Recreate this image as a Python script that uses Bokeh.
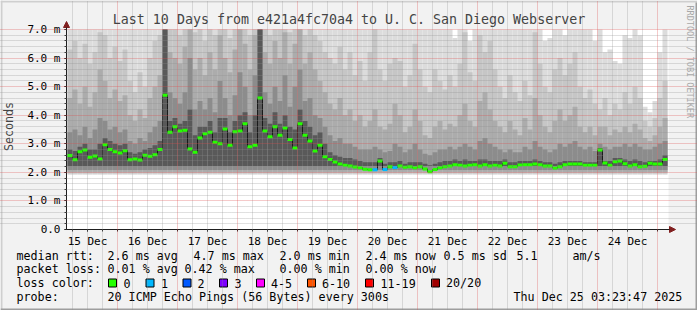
import math
from bokeh.plotting import figure
from bokeh.models import Range1d, FixedTicker, Label, Arrow, NormalHead
from bokeh.core.properties import value
from bokeh.embed import file_html
from bokeh.resources import INLINE

# ---------------- data ----------------
day_labels = ["15 Dec", "16 Dec", "17 Dec", "18 Dec", "19 Dec",
              "20 Dec", "21 Dec", "22 Dec", "23 Dec", "24 Dec"]
bin_start_h = 4      # hours after 15 Dec 00:00
bin_hours = 2

median_ms = [
    2.59, 2.44, 2.72, 2.78, 2.53, 2.57, 2.47, 2.97, 2.80, 2.72,
    2.68, 2.76, 2.44, 2.47, 2.43, 2.60, 2.56, 2.62, 2.80, 4.70,
    3.40, 3.60, 3.45, 3.47, 2.82, 2.70, 3.20, 3.35, 3.40, 3.05,
    3.00, 3.52, 2.95, 3.42, 3.45, 3.70, 2.90, 2.95, 4.60, 3.45,
    3.25, 3.60, 3.30, 3.55, 3.15, 2.85, 3.70, 3.30, 3.10, 2.75,
    2.95, 2.55, 2.45, 2.36, 2.29, 2.25, 2.22, 2.19, 2.16, 2.11,
    2.09, 2.09, 2.40, 2.10, 2.20, 2.17, 2.22, 2.18, 2.20, 2.16,
    2.20, 2.12, 2.02, 2.10, 2.16, 2.20, 2.22, 2.27, 2.25, 2.22,
    2.25, 2.27, 2.22, 2.27, 2.22, 2.25, 2.22, 2.32, 2.20, 2.20,
    2.26, 2.27, 2.27, 2.29, 2.27, 2.22, 2.22, 2.15, 2.20, 2.27,
    2.29, 2.29, 2.29, 2.25, 2.25, 2.25, 2.78, 2.33, 2.25, 2.37,
    2.40, 2.30, 2.22, 2.27, 2.20, 2.21, 2.32, 2.29, 2.29, 2.45,
]
# bins where pings were lost (bin index -> lost pings of 20)
loss_events = {61: 1, 63: 1, 65: 1}

smoke_max = [
    7.0, 7.0, 7.0, 7.0, 7.0, 7.0, 7.0, 7.0, 7.0, 7.0,
    7.0, 7.0, 7.0, 7.0, 7.0, 7.0, 7.0, 7.0, 7.0, 7.0,
    7.0, 7.0, 7.0, 7.0, 7.0, 7.0, 7.0, 7.0, 7.0, 7.0,
    7.0, 7.0, 7.0, 7.0, 7.0, 7.0, 7.0, 7.0, 7.0, 7.0,
    7.0, 7.0, 7.0, 7.0, 7.0, 7.0, 7.0, 7.0, 7.0, 7.0,
    7.0, 7.0, 7.0, 7.0, 7.0, 7.0, 7.0, 7.0, 7.0, 7.0,
    7.0, 7.0, 7.0, 7.0, 7.0, 7.0, 7.0, 7.0, 7.0, 7.0,
    7.0, 7.0, 7.0, 7.0, 7.0, 7.0, 7.0, 6.7, 7.0, 7.0,
    6.6, 7.0, 7.0, 7.0, 7.0, 7.0, 7.0, 7.0, 7.0, 7.0,
    7.0, 7.0, 7.0, 7.0, 7.0, 6.6, 6.7, 7.0, 7.0, 6.8,
    7.0, 7.0, 7.0, 7.0, 7.0, 6.6, 7.0, 6.2, 6.3, 5.9,
    5.8, 6.8, 6.7, 7.0, 6.8, 4.3, 4.1, 4.5, 6.2, 7.0,
]
smoke_p90 = [
    6.3, 6.6, 6.0, 6.5, 5.8, 6.2, 6.9, 6.8, 6.0, 6.4,
    5.9, 6.3, 5.2, 4.8, 5.5, 5.0, 6.0, 6.6, 6.8, 7.0,
    7.0, 7.0, 6.8, 7.0, 7.0, 6.9, 7.0, 6.6, 7.0, 6.8,
    7.0, 7.0, 6.7, 7.0, 7.0, 7.0, 6.8, 7.0, 7.0, 7.0,
    6.8, 7.0, 7.0, 7.0, 6.9, 7.0, 7.0, 6.8, 7.0, 6.8,
    6.6, 6.2, 6.0, 5.8, 6.4, 5.6, 6.2, 5.4, 5.9, 5.2,
    6.2, 7.0, 5.6, 5.2, 5.8, 6.0, 5.9, 5.0, 5.4, 6.5,
    5.6, 5.0, 4.8, 5.6, 5.2, 4.9, 5.4, 5.0, 5.8, 6.9,
    5.5, 5.2, 6.8, 6.2, 6.6, 5.6, 5.0, 4.6, 5.4, 4.8,
    4.5, 5.2, 4.7, 6.9, 5.8, 5.0, 4.8, 5.6, 6.0, 5.4,
    5.8, 6.2, 5.0, 4.6, 4.9, 4.4, 4.2, 4.6, 4.0, 4.4,
    4.2, 4.8, 4.4, 5.0, 4.6, 3.8, 3.6, 3.9, 4.6, 5.2,
]
smoke_p75 = [
    4.6, 4.9, 4.4, 5.0, 4.3, 4.8, 5.6, 5.2, 4.6, 4.9,
    4.5, 4.7, 4.0, 3.8, 4.2, 3.9, 4.6, 5.0, 5.4, 7.0,
    6.2, 6.0, 5.8, 6.4, 7.0, 5.6, 6.0, 5.4, 6.2, 5.6,
    6.8, 6.0, 5.5, 6.3, 7.0, 6.5, 5.6, 6.8, 7.0, 6.2,
    5.8, 6.6, 6.0, 6.9, 5.8, 6.5, 7.0, 5.8, 6.2, 5.6,
    5.2, 4.8, 4.4, 4.2, 4.6, 4.0, 4.2, 3.8, 4.0, 3.6,
    3.8, 4.2, 3.6, 3.5, 3.7, 4.4, 4.0, 3.4, 3.6, 4.2,
    3.8, 3.3, 3.2, 3.6, 3.8, 3.5, 3.7, 3.6, 4.0, 4.4,
    3.8, 3.6, 4.5, 4.8, 4.2, 3.8, 3.6, 3.4, 3.8, 3.5,
    3.3, 3.9, 3.5, 4.6, 4.0, 3.6, 3.4, 3.8, 4.2, 3.8,
    4.0, 4.3, 3.6, 3.4, 3.6, 3.3, 3.6, 3.6, 3.3, 3.5,
    3.4, 3.6, 3.4, 3.7, 3.5, 3.2, 3.1, 3.3, 3.6, 3.9,
]
smoke_p65 = [
    3.4, 3.5, 3.3, 3.6, 3.2, 3.5, 3.9, 3.8, 3.5, 3.6,
    3.4, 3.5, 3.1, 3.0, 3.2, 3.1, 3.4, 3.6, 3.8, 7.0,
    4.8, 4.6, 4.4, 4.8, 6.0, 4.2, 4.5, 4.2, 4.6, 4.1,
    5.2, 4.6, 4.0, 4.7, 5.5, 5.0, 4.0, 5.4, 7.0, 4.8,
    4.4, 5.0, 4.5, 5.4, 4.3, 5.0, 5.6, 4.5, 4.6, 4.0,
    3.9, 3.6, 3.3, 3.1, 3.2, 3.0, 3.0, 2.9, 2.8, 2.8,
    2.8, 2.9, 2.8, 2.7, 2.75, 3.0, 2.9, 2.7, 2.8, 3.0,
    2.8, 2.65, 2.6, 2.7, 2.8, 2.8, 2.9, 2.8, 2.9, 3.0,
    2.9, 2.8, 3.1, 3.2, 3.0, 2.9, 2.8, 2.7, 2.8, 2.7,
    2.7, 2.9, 2.8, 3.1, 2.9, 2.8, 2.7, 2.8, 3.0, 2.9,
    3.0, 3.1, 2.9, 2.8, 2.9, 2.75, 3.0, 2.9, 2.8, 2.9,
    2.9, 3.0, 2.9, 3.0, 2.9, 2.8, 2.8, 2.9, 3.0, 3.1,
]
smoke_p55 = [
    2.8, 2.75, 2.9, 3.0, 2.8, 2.8, 3.0, 3.2, 3.1, 3.0,
    2.95, 3.0, 2.7, 2.65, 2.7, 2.8, 2.85, 2.95, 3.1, 7.0,
    3.8, 3.9, 3.7, 3.8, 4.2, 3.3, 3.6, 3.6, 3.8, 3.4,
    3.9, 3.9, 3.4, 3.8, 4.0, 4.1, 3.4, 4.0, 7.0, 3.9,
    3.7, 4.1, 3.7, 4.0, 3.6, 3.5, 4.2, 3.8, 3.6, 3.3,
    3.4, 3.0, 2.7, 2.6, 2.55, 2.5, 2.5, 2.45, 2.4, 2.35,
    2.35, 2.35, 2.5, 2.3, 2.35, 2.35, 2.4, 2.3, 2.35, 2.35,
    2.35, 2.3, 2.25, 2.3, 2.35, 2.4, 2.4, 2.45, 2.4, 2.45,
    2.4, 2.4, 2.45, 2.45, 2.4, 2.4, 2.4, 2.45, 2.35, 2.35,
    2.4, 2.4, 2.4, 2.45, 2.4, 2.35, 2.35, 2.3, 2.35, 2.4,
    2.4, 2.4, 2.4, 2.35, 2.35, 2.35, 2.85, 2.4, 2.4, 2.5,
    2.5, 2.45, 2.4, 2.45, 2.4, 2.35, 2.4, 2.4, 2.45, 2.6,
]
smoke_bands = [  # (upper level, lower edge, grey)
    (smoke_max, 1.92, "#dcdcdc"),
    (smoke_p90, 1.96, "#c6c6c6"),
    (smoke_p75, 2.00, "#acacac"),
    (smoke_p65, 2.08, "#8c8c8c"),
    (smoke_p55, 2.22, "#595959"),
]

stat_rtt = ["2.6 ms avg", "4.7 ms max", "2.0 ms min", "2.4 ms now", "0.5 ms sd", "5.1", "am/s"]
stat_loss = ["0.01 % avg", "0.42 % max", "0.00 % min", "0.00 % now"]
loss_names = ["0", "1", "2", "3", "4-5", "6-10", "11-19", "20/20"]
loss_cols = ["#26ff00", "#00b8ff", "#0059ff", "#7e00ff", "#ff00ff", "#ff5500", "#ff0000", "#a10000"]
loss_lo = [0, 1, 2, 3, 4, 6, 11, 20]
probe_text = "20 ICMP Echo Pings (56 Bytes) every 300s"
stamp_text = "Thu Dec 25 03:23:47 2025"
title_text = "Last 10 Days from e421a4fc70a4 to U. C. San Diego Webserver"

# ---------------- layout (pixel geometry of the rrd image) ----------------
W, H = 697, 310
AX_X, AX_Y = 66, 229              # where the axes cross (pixels)
CANVAS_R, CANVAS_T = 668, 29      # white canvas right / top edge
X0 = 3.6                          # hours at the y axis
PXH = 2.5                         # px per hour
PXV = 200 / 7                     # px per ms
BG = "#f2f2f2"
MONO = "DejaVu Sans Mono"


def hx(px):
    return X0 + (px - AX_X) / PXH


def vy(py):
    return (AX_Y - py) / PXV


p = figure(width=W, height=H, x_range=Range1d(hx(0), hx(W)), y_range=Range1d(vy(H), vy(0)),
           output_backend="svg", toolbar_location=None,
           min_border=0, min_border_left=0, min_border_right=0,
           min_border_top=0, min_border_bottom=0)
p.background_fill_color = BG
p.border_fill_color = BG
p.outline_line_color = None

# bevel + white canvas
p.quad(left=[hx(0)], right=[hx(W)], bottom=[vy(2)], top=[vy(0)], fill_color="#cfcfcf", line_color=None)
p.quad(left=[hx(0)], right=[hx(2)], bottom=[vy(H)], top=[vy(0)], fill_color="#cfcfcf", line_color=None)
p.quad(left=[hx(0)], right=[hx(W)], bottom=[vy(H)], top=[vy(H - 2)], fill_color="#9e9e9e", line_color=None)
p.quad(left=[hx(W - 2)], right=[hx(W)], bottom=[vy(H)], top=[vy(2)], fill_color="#9e9e9e", line_color=None)
p.quad(left=[X0], right=[hx(CANVAS_R)], bottom=[0], top=[7], fill_color="#ffffff", line_color=None)

n = len(median_ms)
lefts = [bin_start_h + i * bin_hours for i in range(n)]
rights = [l + bin_hours for l in lefts]
centers = [l + bin_hours / 2 for l in lefts]

for level, lo, col in smoke_bands:
    p.quad(left=lefts, right=rights, bottom=lo, top=level, fill_color=col, line_color=None)


def loss_color(k):
    c = loss_cols[0]
    for lo, cc in zip(loss_lo, loss_cols):
        if k >= lo:
            c = cc
    return c


med_cols = [loss_color(loss_events.get(i, 0)) for i in range(n)]
p.step(x=centers, y=median_ms, mode="center", line_color="#1a1a1a", line_width=1)
p.rect(x=centers, y=median_ms, width=bin_hours, height=3, height_units="screen",
       fill_color=med_cols, line_color=None)

# grids
midnights = [24 * d for d in range(1, 11)]
six_h = [6 * k for k in range(1, 41) if k % 4 != 0]
noons = [12 + 24 * d for d in range(10)]
p.xgrid.ticker = FixedTicker(ticks=midnights, minor_ticks=six_h)
p.ygrid.ticker = FixedTicker(ticks=[1, 2, 3, 4, 5, 6, 7],
                             minor_ticks=[k / 5 for k in range(1, 35) if k % 5 != 0])
p.xgrid.bounds = (0, 7)
p.ygrid.bounds = (X0, hx(CANVAS_R))
for g in (p.xgrid, p.ygrid):
    g.level = "guide"
    g.grid_line_color = "#de4f4f"
    g.grid_line_alpha = 0.6
    g.grid_line_dash = "1 1"
    g.minor_grid_line_color = "#8f8f8f"
    g.minor_grid_line_alpha = 0.55
    g.minor_grid_line_dash = "1 1"

# axes, pinned where the rrd axes cross
p.xaxis.fixed_location = 0
p.yaxis.fixed_location = X0
p.xaxis.ticker = FixedTicker(ticks=noons, minor_ticks=[6 * k for k in range(1, 41)])
p.xaxis.major_label_overrides = {t: l for t, l in zip(noons, day_labels)}
p.xaxis.bounds = (X0, hx(670))
p.yaxis.ticker = FixedTicker(ticks=[0, 1, 2, 3, 4, 5, 6, 7],
                             minor_ticks=[k / 5 for k in range(0, 36)])
p.yaxis.major_label_overrides = {0: "0.0", 1: "1.0 m", 2: "2.0 m", 3: "3.0 m",
                                 4: "4.0 m", 5: "5.0 m", 6: "6.0 m", 7: "7.0 m"}
p.yaxis.bounds = (0, vy(23))
for ax in (p.xaxis, p.yaxis):
    ax.axis_line_color = "#1f1f1f"
    ax.major_tick_line_color = "#1f1f1f"
    ax.minor_tick_line_color = "#1f1f1f"
    ax.major_tick_in = 0
    ax.minor_tick_in = 0
    ax.major_tick_out = 2
    ax.minor_tick_out = 2
    ax.major_label_text_font = MONO
    ax.major_label_text_font_size = "11px"
    ax.major_label_text_color = "#000000"
p.xaxis.major_label_standoff = 3
p.yaxis.major_label_standoff = 4
p.yaxis.axis_label = "Seconds"
p.yaxis.axis_label_text_font = MONO
p.yaxis.axis_label_text_font_size = "11.7px"
p.yaxis.axis_label_text_font_style = "normal"
p.yaxis.axis_label_standoff = 8

# arrows
p.add_layout(Arrow(end=NormalHead(size=6, fill_color="#801f1f", line_color="#801f1f"),
                   x_start=X0, y_start=7, x_end=X0, y_end=vy(21),
                   line_color="#1f1f1f", line_width=1))
p.add_layout(Arrow(end=NormalHead(size=6, fill_color="#801f1f", line_color="#801f1f"),
                   x_start=hx(660), y_start=0, x_end=hx(675), y_end=0,
                   line_color="#1f1f1f", line_width=1))

p.add_layout(Label(x=hx(348.5), y=vy(19), text=title_text, text_font=MONO,
                   text_font_size="13.3px", text_align="center", text_baseline="middle"))
p.add_layout(Label(x=hx(689), y=vy(5), text="RRDTOOL / TOBI OETIKER", text_font=MONO,
                   text_font_size="8.5px", text_align="left", text_baseline="middle",
                   text_color="#a8a8a8", angle=-math.pi / 2))

# ---------------- legend ----------------
L1, L2, L3, L4 = 255, 268.5, 282.5, 296
tx, ty, tt = [], [], []


def add(s, x, y):
    tt.append(s)
    tx.append(hx(x))
    ty.append(vy(y))


add("median rtt:", 16, L1)
for s, x in zip(stat_rtt, [107, 193, 279, 365, 443, 516, 572]):
    add(s, x, L1)
add("packet loss:", 16, L2)
for s, x in zip(stat_loss, [107, 184, 279, 365]):
    add(s, x, L2)
add("loss color:", 16, L3)
sq_x = [108, 145.5, 182.5, 219, 256, 307, 365, 431]
lab_x = [123, 160.5, 197, 234, 270.5, 321.5, 380, 445.5]
for s, x in zip(loss_names, lab_x):
    add(s, x, L3)
add("probe:", 16, L4)
add(probe_text, 107, L4)
add(stamp_text, 513, L4)

p.text(x=tx, y=ty, text=tt, text_font=value(MONO), text_font_size="11.7px",
       text_baseline="middle", text_align="left", text_color="#000000")
p.rect(x=[hx(x + 4) for x in sq_x], y=[vy(L3)] * len(sq_x), width=8, height=8,
       width_units="screen", height_units="screen",
       fill_color=loss_cols, line_color="#000000", line_width=1)

open("out.html", "w").write(file_html(p, INLINE))
